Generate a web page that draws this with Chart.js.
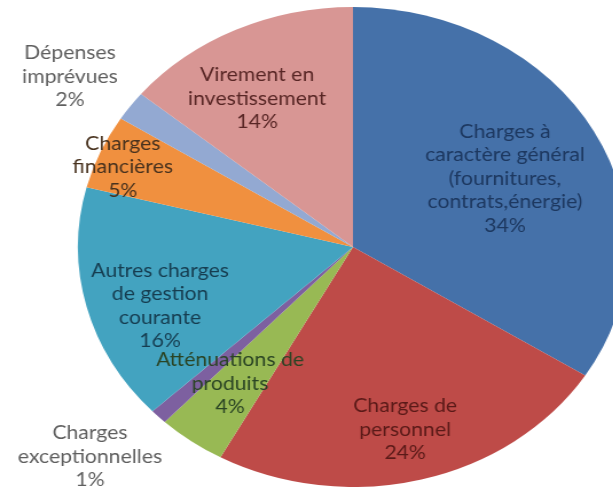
<!DOCTYPE html>
<html><head><meta charset="utf-8">
<script src="https://cdn.jsdelivr.net/npm/chart.js@4/dist/chart.umd.min.js"></script>
<style>
html,body{margin:0;padding:0;background:#fff;overflow:hidden;width:613px;height:487px}
#wrap{position:absolute;left:0;top:0;width:616px;height:487px;transform:scaleX(1.146);transform-origin:0 0}
canvas{display:block}
</style></head><body>
<div id="wrap"><canvas id="c" width="616" height="487" style="width:616px;height:487px"></canvas></div>
<script>
// Data
const categories = [
  "Charges à caractère général (fournitures, contrats,énergie)",
  "Charges de personnel",
  "Atténuations de produits",
  "Charges exceptionnelles",
  "Autres charges de gestion courante",
  "Charges financières",
  "Dépenses imprévues",
  "Virement en investissement"
];
const values = [34, 24, 4, 1, 16, 5, 2, 14];
const labelLines = [
  ["Charges à", "caractère général", "(fournitures,", "contrats,énergie)"],
  ["Charges de", "personnel"],
  ["Atténuations de", "produits"],
  ["Charges", "exceptionnelles"],
  ["Autres charges", "de gestion", "courante"],
  ["Charges", "financières"],
  ["Dépenses", "imprévues"],
  ["Virement en", "investissement"]
];

// Styles
const colors = ["#4571A9", "#BE4B48", "#98B954", "#7D60A0", "#43A3C0", "#F0903F", "#93A9D2", "#D89694"];
const textColors = ["#1D3860", "#5A1A18", "#2A4424", "#5F5F5F", "#163D50", "#48321E", "#5F5F5F", "#582625"];
// label placement: radius fraction and angle shift (degrees) from slice middle
const labelRadius = [0.621, 0.784, 0.725, 1.295, 0.743, 0.90, 1.25, 0.71];
const labelAngleShift = [1.65, 0.4, 2.07, 2.6, -4.9, -1.8, -1.4, -4.2];

const labelPlugin = {
  id: 'sliceLabels',
  afterDatasetsDraw(chart) {
    const ctx = chart.ctx;
    const meta = chart.getDatasetMeta(0);
    ctx.save();
    ctx.font = '18.5px Lato';
    ctx.textAlign = 'center';
    ctx.textBaseline = 'middle';
    meta.data.forEach((arc, i) => {
      const p = arc.getProps(['x', 'y', 'startAngle', 'endAngle', 'outerRadius'], true);
      const mid = (p.startAngle + p.endAngle) / 2 + labelAngleShift[i] * Math.PI / 180;
      const r = p.outerRadius * labelRadius[i];
      const cx = p.x + Math.cos(mid) * r;
      const cy = p.y + Math.sin(mid) * r;
      const lines = labelLines[i].concat([values[i] + '%']);
      const lh = 23.5;
      const y0 = cy - (lines.length - 1) * lh / 2;
      ctx.fillStyle = textColors[i];
      lines.forEach((t, k) => ctx.fillText(t, cx, y0 + k * lh));
    });
    ctx.restore();
  }
};

new Chart(document.getElementById('c'), {
  type: 'pie',
  data: {
    labels: categories,
    datasets: [{
      data: values,
      backgroundColor: colors,
      borderWidth: 0,
      hoverOffset: 0,
      offset: 0
    }]
  },
  options: {
    responsive: false,
    animation: false,
    layout: { padding: { top: 7, bottom: 0, left: 0, right: 0 } },
    plugins: { legend: { display: false }, tooltip: { enabled: false } }
  },
  plugins: [labelPlugin]
});
</script>
</body></html>
